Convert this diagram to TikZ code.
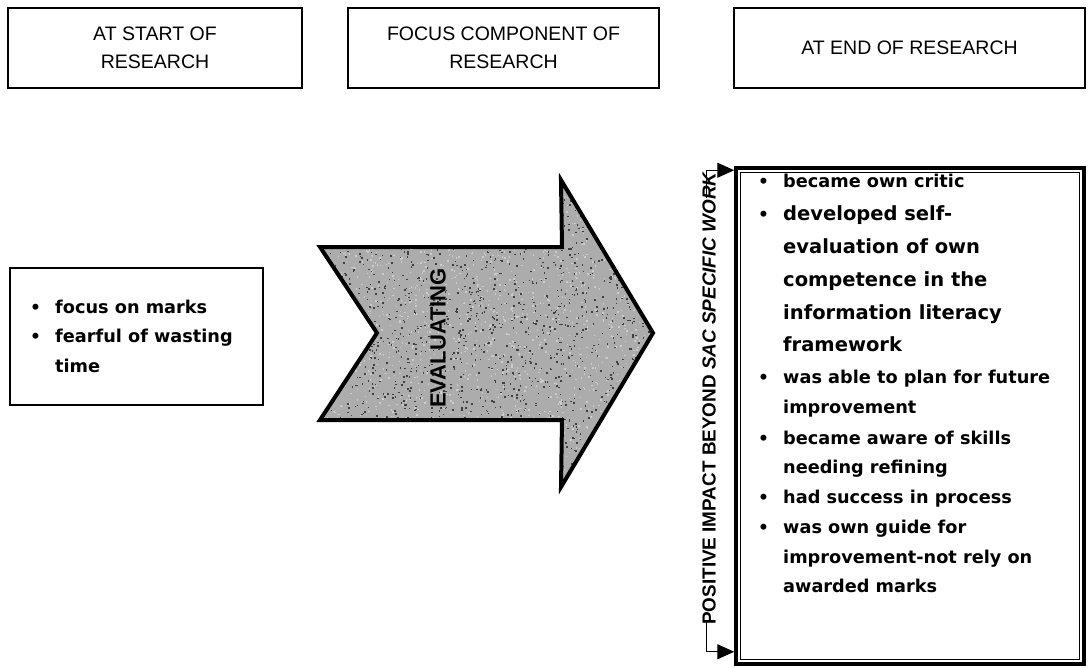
\documentclass[tikz,border=0pt]{standalone}
\usepackage{fontspec}
\setmainfont{DejaVu Sans}
\newfontfamily\hdfont{Liberation Sans}
\usetikzlibrary{arrows.meta}
\begin{document}
\begin{tikzpicture}[x=1bp,y=-1bp,
  hdbox/.style={draw,line width=1.1bp,minimum width=294bp,minimum height=80bp,
    align=center,font=\hdfont\fontsize{19.5bp}{28bp}\selectfont},
  plainbox/.style={draw,line width=1.1bp},
  txt/.style={anchor=base west,inner sep=0pt,font=\bfseries\fontsize{17.7bp}{20bp}\selectfont},
  bigtxt/.style={txt,font=\bfseries\fontsize{19.5bp}{22bp}\selectfont},
  dot/.style={anchor=base west,inner sep=0pt,font=\bfseries\fontsize{17bp}{20bp}\selectfont},
  conn/.style={line width=1bp,-{Triangle[length=17bp,width=15bp]}},
]
\useasboundingbox (0,0) rectangle (1088,668);

% column headings
\node[hdbox] (h1) at (155,48) {AT START OF\\RESEARCH};
\node[hdbox,minimum width=311bp] (h2) at (503.5,48) {FOCUS COMPONENT OF\\RESEARCH};
\node[hdbox,minimum width=351bp] (h3) at (909.5,48) {AT END OF RESEARCH};

% starting state
\node[plainbox,minimum width=253bp,minimum height=137bp] (startbox) at (136.5,336.5) {};
\foreach \t/\b/\y [count=\i] in {focus on marks/1/313, fearful of wasting/1/342, time/0/372}{
  \ifnum\b=1 \node[dot] (sd\i) at (30,\y) {\textbullet}; \fi
  \node[txt] (s\i) at (55,\y) {\t};
}

% focus component arrow with a speckled grey fill
\coordinate (a1) at (320,247);
\coordinate (a2) at (562,247);
\coordinate (a3) at (561,180);
\coordinate (a4) at (653,333);
\coordinate (a5) at (561,487);
\coordinate (a6) at (562,420);
\coordinate (a7) at (320,420);
\coordinate (a8) at (377,333);
\begin{scope}
  \clip (a1) -- (a2) -- (a3) -- (a4) -- (a5) -- (a6) -- (a7) -- (a8) -- cycle;
  \fill[gray!65] (300,170) rectangle (660,500);
  \pgfmathsetseed{7}
  \foreach \k in {1,...,3600}{
    \pgfmathsetmacro{\px}{320+333*rnd}
    \pgfmathsetmacro{\py}{180+307*rnd}
    \pgfmathsetmacro{\sh}{ifthenelse(rnd>0.5,75,20)}
    \fill[black!\sh!white] (\px,\py) rectangle ++(1.5,1.5);
  }
\end{scope}
\draw[line width=4bp,line join=miter] (a1) -- (a2) -- (a3) -- (a4) -- (a5) -- (a6) -- (a7) -- (a8) -- cycle;
\node[rotate=90,font=\hdfont\bfseries\fontsize{22bp}{24bp}\selectfont,inner sep=0pt] (eval) at (438,338) {EVALUATING};

% end state box with double border
\node[draw,line width=3.5bp,minimum width=348bp,minimum height=496bp,inner sep=0pt] (endbox) at (910,416) {};
\draw[line width=1.1bp] ([shift={(6bp,-6bp)}]endbox.north west) rectangle ([shift={(-6bp,6bp)}]endbox.south east);

\foreach \t/\b/\y/\s [count=\i] in {
  became own critic/1/188/txt,
  developed self-/1/220/bigtxt,
  evaluation of own/0/253/bigtxt,
  competence in the/0/286/bigtxt,
  information literacy/0/319/bigtxt,
  framework/0/351/bigtxt,
  was able to plan for future/1/383/txt,
  improvement/0/413/txt,
  became aware of skills/1/444/txt,
  needing refining/0/473/txt,
  had success in process/1/503/txt,
  was own guide for/1/533/txt,
  improvement-not rely on/0/563/txt,
  awarded marks/0/592/txt}{
  \ifnum\b=1 \node[dot] (ed\i) at (758,\y) {\textbullet}; \fi
  \node[\s] (e\i) at (783,\y) {\t};
}

% side label with bracket arrows into the end box
\node[rotate=90,inner sep=0pt,font=\hdfont\bfseries\fontsize{18.9bp}{20bp}\selectfont] (side) at (709,398)
  {POSITIVE IMPACT BEYOND \textit{SAC SPECIFIC WORK}};
\coordinate (bt) at (706,198);
\coordinate (bb) at (706,622);
\draw[conn] (bt) |- ([yshift=-4bp]endbox.north west);
\draw[conn] (bb) |- ([yshift=14bp]endbox.south west);
\end{tikzpicture}
\end{document}
